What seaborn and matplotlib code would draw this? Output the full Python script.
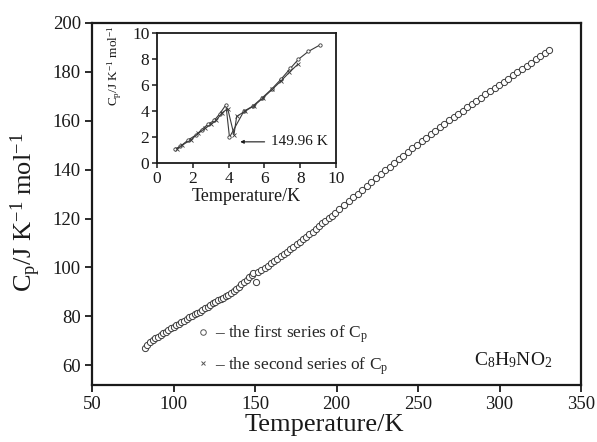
import matplotlib
matplotlib.use("Agg")
import matplotlib.pyplot as plt
from matplotlib.lines import Line2D
import seaborn as sns
import pandas as pd

# Heat capacity of C8H9NO2, first series (T in K, Cp in J K^-1 mol^-1)
temp_first = [
    82.6, 84.0, 85.7, 87.3, 88.9, 90.5, 92.1, 93.7, 95.3, 96.9, 98.5, 100.1,
    101.7, 103.3, 104.9, 106.5, 108.1, 109.7, 111.3, 112.9, 114.5, 116.1, 117.7,
    119.3, 120.9, 122.5, 124.1, 125.7, 127.3, 128.9, 130.5, 132.1, 133.7, 135.3,
    136.9, 138.5, 140.1, 141.7, 143.3, 144.9, 146.5, 148.1, 149.0, 150.6,
    152.0, 153.9, 155.9, 157.8, 159.8, 161.8, 163.7, 165.7, 167.6, 169.6, 171.6,
    173.5, 175.5, 177.4, 179.4, 181.4, 183.3, 185.3, 187.2, 189.2, 191.2, 193.1,
    195.1, 197.0, 199.0,
    201.8, 204.6, 207.4, 210.2, 213.0, 215.8, 218.6, 221.4, 224.2, 227.0, 229.8,
    232.6, 235.4, 238.2, 241.0, 243.8, 246.6, 249.4, 252.2, 255.0, 257.8, 260.6,
    263.4, 266.2, 269.0, 271.8, 274.6, 277.4, 280.2, 283.0, 285.8, 288.6, 291.4,
    294.2, 297.0, 299.8, 302.6, 305.4, 308.2, 311.0, 313.8, 316.6, 319.4, 322.2,
    325.0, 327.8, 330.4,
]
cp_first = [
    67.3, 68.4, 69.7, 70.4, 71.0, 71.6, 72.3, 73.1, 73.8, 74.6, 75.2, 75.8,
    76.4, 77.1, 77.7, 78.3, 79.0, 79.6, 80.2, 80.8, 81.4, 82.0, 82.6,
    83.3, 84.0, 84.7, 85.4, 86.1, 86.7, 87.2, 87.7, 88.3, 88.9, 89.6,
    90.4, 91.3, 92.2, 93.1, 94.0, 95.0, 96.0, 97.1, 97.9, 94.0,
    98.0, 98.9, 99.8, 100.7, 101.7, 102.6, 103.6, 104.5, 105.5, 106.5, 107.5,
    108.5, 109.5, 110.5, 111.5, 112.6, 113.6, 114.7, 115.8, 116.9, 118.0, 119.0,
    120.1, 121.1, 122.2,
    123.8, 125.4, 127.0, 128.6, 130.2, 131.8, 133.4, 135.0, 136.6, 138.2, 139.7,
    141.2, 142.7, 144.2, 145.7, 147.2, 148.7, 150.2, 151.6, 153.1, 154.5, 155.9,
    157.3, 158.7, 160.1, 161.5, 162.8, 164.1, 165.4, 166.8, 168.1, 169.4, 170.7,
    172.0, 173.3, 174.6, 175.9, 177.2, 178.5, 179.8, 181.1, 182.4, 183.7, 185.0,
    186.3, 187.6, 188.8,
]

# Inset: transition region, both series
inset_t1 = [1.0, 1.3, 1.75, 2.2, 2.5, 2.85, 3.2, 3.5, 3.85, 4.05, 4.85, 5.35,
            5.85, 6.4, 6.95, 7.45, 7.9, 8.45, 9.1]
inset_c1 = [1.1, 1.3, 1.8, 2.2, 2.6, 3.0, 3.3, 3.8, 4.5, 2.0, 4.0, 4.4,
            5.0, 5.7, 6.5, 7.3, 8.0, 8.6, 9.1]
inset_t2 = [1.1, 1.4, 1.9, 2.3, 2.7, 3.0, 3.3, 3.65, 3.95, 4.3, 4.45, 4.9,
            5.4, 5.9, 6.45, 6.9, 7.4, 7.85]
inset_c2 = [1.1, 1.4, 1.8, 2.3, 2.7, 3.0, 3.3, 3.9, 4.2, 2.2, 3.6, 4.0,
            4.4, 5.0, 5.7, 6.3, 7.0, 7.6]

main_xticks = [50, 100, 150, 200, 250, 300, 350]
main_yticks = [60, 80, 100, 120, 140, 160, 180, 200]
inset_ticks = [0, 2, 4, 6, 8, 10]
transition_label = "149.96 K"

sns.set_style("ticks")
plt.rcParams["font.family"] = ["Liberation Serif", "DejaVu Serif"]
plt.rcParams["mathtext.fontset"] = "custom"
plt.rcParams["mathtext.rm"] = "Liberation Serif"
plt.rcParams["mathtext.it"] = "Liberation Serif:italic"
plt.rcParams["mathtext.bf"] = "Liberation Serif:bold"

ink = "#1a1a1a"
mark = "#3a3a3a"

fig = plt.figure(figsize=(5.97, 4.42), dpi=100)
ax = fig.add_axes([92 / 597, 1 - 385 / 442, 489 / 597, (385 - 22.7) / 442])

df_main = pd.DataFrame({"T": temp_first, "Cp": cp_first})
sns.scatterplot(data=df_main, x="T", y="Cp", ax=ax, marker="o", s=20,
                facecolor="white", edgecolor=mark, linewidth=0.7, zorder=3)

ax.set_xlim(50, 350)
ax.set_ylim(52, 200)
ax.set_xticks(main_xticks)
ax.set_yticks(main_yticks)
ax.tick_params(direction="out", length=5, width=1.3, labelsize=13.5,
               colors=ink, pad=3)
for sp in ax.spines.values():
    sp.set_visible(True)
    sp.set_linewidth(1.6)
    sp.set_color(ink)
ax.set_xlabel("Temperature/K", fontsize=19, color=ink)
ax.xaxis.set_label_coords(0.475, -0.08)
ax.set_ylabel(r"$\mathregular{C_p/J\ K^{-1}\ mol^{-1}}$", fontsize=19,
              color=ink)
ax.yaxis.set_label_coords(-0.1, 0.477)

handles = [
    Line2D([], [], marker="o", ms=4, mfc="white", mec="#555555", mew=0.7,
           ls="none"),
    Line2D([], [], marker="x", ms=3.5, mec="#555555", mew=0.7, ls="none"),
]
labels = [r"– the first series of $\mathregular{C_p}$",
          r"– the second series of $\mathregular{C_p}$"]
ax.legend(handles, labels, loc="center left", bbox_to_anchor=(0.198, 0.096),
          frameon=False, fontsize=12.5, handlelength=0.8, handletextpad=0.3,
          labelspacing=0.55, borderaxespad=0)

ax.text(0.862, 0.069, r"$\mathregular{C_8H_9NO_2}$", transform=ax.transAxes,
        ha="center", va="center", fontsize=14, color=ink)

# Inset axes
axi = fig.add_axes([157 / 597, 1 - 163.3 / 442, 179 / 597, 130 / 442])
df1 = pd.DataFrame({"T": inset_t1, "Cp": inset_c1})
df2 = pd.DataFrame({"T": inset_t2, "Cp": inset_c2})
sns.lineplot(data=df1, x="T", y="Cp", ax=axi, sort=False, color=mark,
             linewidth=0.8, marker="o", markersize=2.4, mfc="white", mec=mark,
             mew=0.6)
sns.lineplot(data=df2, x="T", y="Cp", ax=axi, sort=False, color=mark,
             linewidth=0.8, marker="x", markersize=2.5, mec=mark, mew=0.6)
axi.set_xlim(0, 10)
axi.set_ylim(0, 10)
axi.set_xticks(inset_ticks)
axi.set_yticks(inset_ticks)
axi.tick_params(direction="out", length=3.5, width=1.1, labelsize=12.5,
                colors=ink, pad=2)
for sp in axi.spines.values():
    sp.set_visible(True)
    sp.set_linewidth(1.3)
    sp.set_color(ink)
axi.set_xlabel("Temperature/K", fontsize=13, color=ink, labelpad=1)
axi.set_ylabel(r"$\mathregular{C_p/J\ K^{-1}\ mol^{-1}}$", fontsize=9.5,
               color=ink)
axi.yaxis.set_label_coords(-0.185, 0.75)
axi.annotate(transition_label, xy=(4.65, 1.65), xytext=(6.35, 1.65),
             fontsize=11, color=ink, va="center", ha="left",
             arrowprops=dict(arrowstyle="-|>", lw=0.8, color=ink,
                             mutation_scale=5, shrinkA=2, shrinkB=0))

fig.savefig("out.png", dpi=100, facecolor="white")
